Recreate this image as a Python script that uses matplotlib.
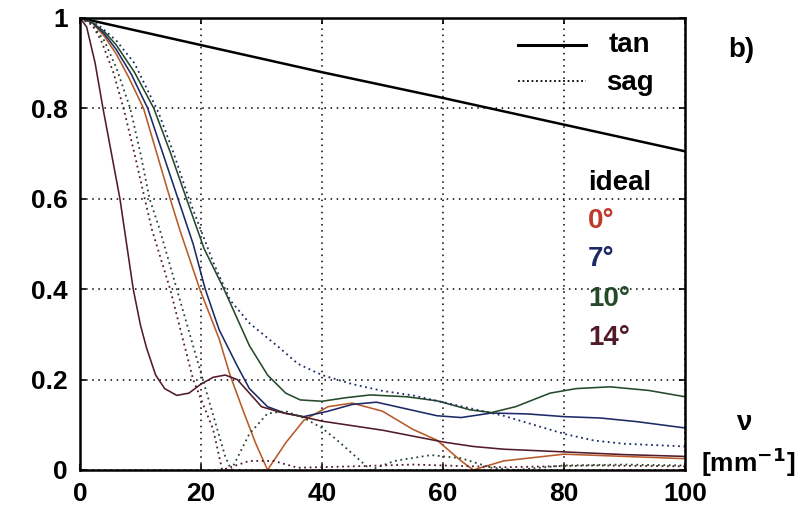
import matplotlib
matplotlib.use("Agg")
import matplotlib.pyplot as plt

# spatial frequency (mm^-1) and MTF values
ideal_x = [0, 20, 40, 60, 80, 100]
ideal_y = [1.0, 0.94, 0.88, 0.823, 0.764, 0.705]

# 0 deg, tangential
t0_x = [0, 2, 4, 6, 8, 10.5, 12.7, 14.9, 16.5, 19.8, 23, 24.8, 27, 29, 31, 34, 37, 41, 45, 50, 55, 59, 63, 65, 70, 80, 90, 100]
t0_y = [1.0, 0.99, 0.96, 0.92, 0.87, 0.8, 0.7, 0.6, 0.531, 0.4, 0.29, 0.21, 0.13, 0.06, 0.0, 0.06, 0.11, 0.14, 0.148, 0.13, 0.09, 0.066, 0.02, 0.0, 0.02, 0.035, 0.03, 0.025]

# 7 deg, tangential
t7_x = [0, 2, 4, 6, 8.5, 11.2, 13.7, 16.2, 18.7, 20.7, 23, 26, 28, 31, 34, 37, 41, 45, 49, 54, 59, 63, 68, 74, 80, 86, 92, 100]
t7_y = [1.0, 0.99, 0.965, 0.93, 0.875, 0.8, 0.7, 0.6, 0.5, 0.4, 0.31, 0.23, 0.18, 0.14, 0.125, 0.118, 0.13, 0.145, 0.15, 0.135, 0.12, 0.116, 0.126, 0.124, 0.118, 0.115, 0.107, 0.093]

# 10 deg, tangential
t10_x = [0, 2, 4, 6, 9, 12.2, 15, 17.6, 20.5, 23.8, 28, 31, 34, 36.4, 40, 44, 48, 54, 59, 64.5, 68, 72, 77.7, 82, 87.6, 94, 100]
t10_y = [1.0, 0.99, 0.97, 0.94, 0.88, 0.8, 0.7, 0.6, 0.49, 0.4, 0.275, 0.21, 0.17, 0.155, 0.152, 0.16, 0.166, 0.162, 0.153, 0.133, 0.127, 0.14, 0.17, 0.18, 0.184, 0.176, 0.162]

# 14 deg, tangential
t14_x = [0, 1.1, 2.5, 3.8, 5.2, 6.6, 7.7, 8.8, 10, 11, 12.5, 14, 16, 18, 20, 22, 24, 26, 28, 30, 33, 36, 40, 45, 50, 55, 60, 65, 70, 80, 90, 100]
t14_y = [1.0, 0.98, 0.9, 0.8, 0.7, 0.6, 0.5, 0.4, 0.32, 0.27, 0.21, 0.18, 0.165, 0.17, 0.19, 0.205, 0.21, 0.2, 0.17, 0.14, 0.128, 0.12, 0.108, 0.098, 0.088, 0.075, 0.062, 0.052, 0.046, 0.04, 0.034, 0.03]

# sagittal curves
s7_x = [0, 3, 6, 9, 13, 15.5, 18, 22, 24.8, 28, 33, 36, 40, 45, 50, 55, 60, 65, 70, 75, 80, 85, 90, 100]
s7_y = [1.0, 0.985, 0.95, 0.9, 0.79, 0.7, 0.6, 0.46, 0.376, 0.325, 0.27, 0.235, 0.21, 0.19, 0.175, 0.165, 0.15, 0.135, 0.12, 0.1, 0.08, 0.065, 0.058, 0.052]

s10_x = [0, 2, 4, 6, 8.3, 10, 11.5, 13.2, 16, 20.3, 24, 25, 28, 31, 34, 37, 40, 42.5, 46.8, 48, 52, 58, 63, 68, 72, 80, 90, 100]
s10_y = [1.0, 0.985, 0.95, 0.89, 0.8, 0.7, 0.6, 0.531, 0.4, 0.2, 0.03, 0.0, 0.08, 0.125, 0.13, 0.115, 0.093, 0.066, 0.015, 0.0, 0.02, 0.033, 0.026, 0.005, 0.0, 0.01, 0.012, 0.01]

s14_x = [0, 2, 3.5, 5.5, 7.2, 9, 10.7, 11.9, 14.9, 18.7, 22, 23.5, 28, 32, 36, 45, 55, 70, 85, 100]
s14_y = [1.0, 0.985, 0.95, 0.88, 0.8, 0.7, 0.6, 0.531, 0.4, 0.2, 0.09, 0.0, 0.02, 0.02, 0.005, 0.008, 0.012, 0.006, 0.01, 0.008]

col_0 = '#b85a2a'
col_7 = '#1c2a66'
col_10 = '#254a2a'
col_14 = '#521b2a'

fig = plt.figure(figsize=(8.09, 5.25), dpi=100)
ax = fig.add_axes([0.0989, 0.1048, 0.7478, 0.861])

ax.plot(ideal_x, ideal_y, color='black', lw=1.8)
ax.plot(t0_x, t0_y, color=col_0, lw=1.15)
ax.plot(t7_x, t7_y, color=col_7, lw=1.15)
ax.plot(t10_x, t10_y, color=col_10, lw=1.15)
ax.plot(t14_x, t14_y, color=col_14, lw=1.15)
ax.plot(s7_x, s7_y, color=col_7, lw=1.3, ls=(0, (1, 2)))
ax.plot(s10_x, s10_y, color=col_10, lw=1.3, ls=(0, (1, 2)))
ax.plot(s14_x, s14_y, color=col_14, lw=1.3, ls=(0, (1, 2)))

ax.set_xlim(0, 100)
ax.set_ylim(0, 1)
ax.set_xticks([0, 20, 40, 60, 80, 100])
ax.set_yticks([0, 0.2, 0.4, 0.6, 0.8, 1])
ax.set_yticklabels(['0', '0.2', '0.4', '0.6', '0.8', '1'])
ax.grid(True, color='black', ls=(0, (1, 3)), lw=1.1)
ax.tick_params(direction='in', length=4, width=1.2, top=True, right=True, pad=9,
               labelsize=19)
for lab in ax.get_xticklabels() + ax.get_yticklabels():
    lab.set_fontweight('bold')
    lab.set_fontfamily('Liberation Sans')
for sp in ax.spines.values():
    sp.set_linewidth(1.8)

# legend drawn by hand
ax.plot([72.4, 83.6], [0.94, 0.94], color='black', lw=2.2)
ax.plot([72.4, 83.6], [0.86, 0.86], color='black', lw=1.3, ls=(0, (1, 1.5)))
tf = dict(fontsize=20, fontweight='bold', family='Liberation Sans', va='center')
ax.text(87.3, 0.94, 'tan', **tf)
ax.text(87.0, 0.855, 'sag', **tf)
ax.text(84.0, 0.635, 'ideal', color='black', **tf)
ax.text(84.0, 0.55, '0°', color='#c0392b', **tf)
ax.text(84.0, 0.467, '7°', color=col_7, **tf)
ax.text(84.0, 0.378, '10°', color=col_10, **tf)
ax.text(84.0, 0.292, '14°', color=col_14, **tf)

fig.text(0.9, 0.905, 'b)', fontsize=20, fontweight='bold', family='Liberation Sans', ha='left', va='center')
fig.text(0.921, 0.195, 'ν', fontsize=20, fontweight='bold', family='Liberation Sans', ha='center', va='center')
fig.text(0.925, 0.12, '[mm$^{\\mathbf{-1}}$]', fontsize=19, fontweight='bold', family='Liberation Sans', ha='center', va='center')

fig.savefig('out.png', dpi=100)
